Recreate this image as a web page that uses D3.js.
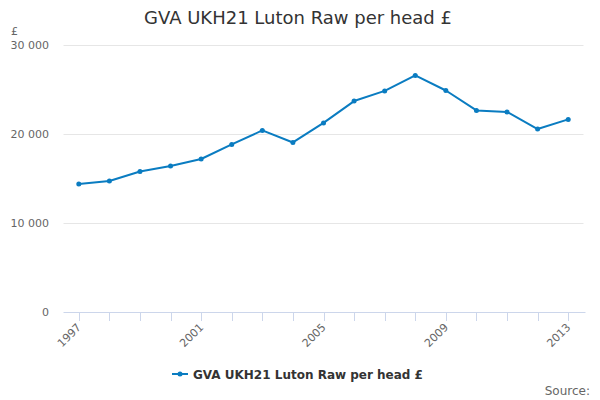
<!DOCTYPE html>
<html>
<head>
<meta charset="utf-8" />
<script src="https://cdn.jsdelivr.net/npm/d3@7/dist/d3.min.js"></script>
<style>
  body { margin: 0; background: #fff; }
  svg { font-family: "DejaVu Sans", sans-serif; }
</style>
</head>
<body>
<script>
  // chart data
  var years = ["1997", "1998", "1999", "2000", "2001", "2002", "2003", "2004", "2005",
               "2006", "2007", "2008", "2009", "2010", "2011", "2012", "2013"];
  var gvaPerHead = [14380, 14720, 15790, 16400, 17190, 18830, 20400, 19050, 21250,
                    23700, 24840, 26580, 24890, 22650, 22480, 20560, 21640];
  var yTicks = [0, 10000, 20000, 30000];
  var labelYears = ["1997", "2001", "2005", "2009", "2013"];
  var seriesName = "GVA UKH21 Luton Raw per head £";

  var width = 600, height = 400;
  var plotLeft = 63.5, plotRight = 583.5, plotTop = 45, plotBottom = 312;
  var blue = "#0a7cc1";

  var svg = d3.select("body").append("svg")
    .attr("width", width)
    .attr("height", height);

  var x = d3.scaleBand().domain(years).range([plotLeft, plotRight]);
  var y = d3.scaleLinear().domain([0, 30000]).range([plotBottom, plotTop]);
  var cx = function (d) { return x(d) + x.bandwidth() / 2; };

  // title
  svg.append("text")
    .attr("x", width / 2 - 2).attr("y", 24)
    .attr("text-anchor", "middle")
    .attr("font-size", "18px")
    .attr("fill", "#333")
    .text(seriesName);

  // gridlines
  svg.append("g").selectAll("line")
    .data(yTicks.filter(function (d) { return d > 0; }))
    .enter().append("line")
    .attr("x1", plotLeft).attr("x2", plotRight)
    .attr("y1", function (d) { return y(d) + 0.5; })
    .attr("y2", function (d) { return y(d) + 0.5; })
    .attr("stroke", "#e6e6e6");

  // y labels
  svg.append("g").selectAll("text")
    .data(yTicks)
    .enter().append("text")
    .attr("x", 49).attr("y", function (d) { return y(d) + 4; })
    .attr("text-anchor", "end")
    .attr("font-size", "11px")
    .attr("fill", "#666")
    .text(function (d) { return d3.format(",")(d).replace(/,/g, " "); });

  svg.append("text")
    .attr("x", 11).attr("y", 35)
    .attr("font-size", "11px")
    .attr("fill", "#666")
    .text("£");

  // x axis
  svg.append("line")
    .attr("x1", plotLeft).attr("x2", plotRight + 2)
    .attr("y1", plotBottom + 0.5).attr("y2", plotBottom + 0.5)
    .attr("stroke", "#ccd6eb");

  svg.append("g").selectAll("line")
    .data(years)
    .enter().append("line")
    .attr("x1", function (d) { return Math.round(cx(d)) + 0.5; })
    .attr("x2", function (d) { return Math.round(cx(d)) + 0.5; })
    .attr("y1", plotBottom).attr("y2", plotBottom + 9)
    .attr("stroke", "#ccd6eb");

  svg.append("g").selectAll("text")
    .data(labelYears)
    .enter().append("text")
    .attr("text-anchor", "end")
    .attr("font-size", "11px")
    .attr("fill", "#666")
    .attr("transform", function (d) {
      return "translate(" + (cx(d) + 3) + "," + (plotBottom + 16) + ") rotate(-45)";
    })
    .text(function (d) { return d; });

  // series
  var pts = years.map(function (d, i) { return [cx(d), y(gvaPerHead[i])]; });
  svg.append("path")
    .attr("d", d3.line()(pts))
    .attr("fill", "none")
    .attr("stroke", blue)
    .attr("stroke-width", 2)
    .attr("stroke-linejoin", "round");

  svg.append("g").selectAll("circle")
    .data(pts)
    .enter().append("circle")
    .attr("cx", function (d) { return d[0]; })
    .attr("cy", function (d) { return d[1]; })
    .attr("r", 2.5)
    .attr("fill", blue);

  // legend
  var lg = svg.append("g");
  lg.append("line")
    .attr("x1", 172).attr("x2", 188)
    .attr("y1", 374).attr("y2", 374)
    .attr("stroke", blue).attr("stroke-width", 2);
  lg.append("circle").attr("cx", 180).attr("cy", 374).attr("r", 2.5).attr("fill", blue);
  lg.append("text")
    .attr("x", 193).attr("y", 378.5)
    .attr("font-size", "12px")
    .attr("font-weight", "bold")
    .attr("fill", "#333")
    .text(seriesName);

  svg.append("text")
    .attr("x", 590).attr("y", 395)
    .attr("text-anchor", "end")
    .attr("font-size", "12px")
    .attr("fill", "#666")
    .text("Source:");
</script>
</body>
</html>
